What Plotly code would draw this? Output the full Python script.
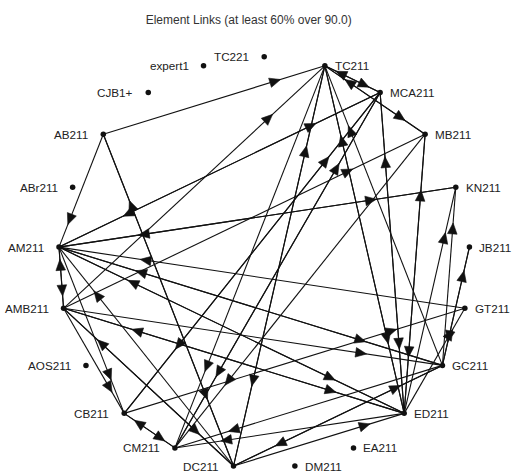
import math
import plotly.graph_objects as go

# Node order around the circle (clockwise from the top)
nodes = ["TC221", "TC211", "MCA211", "MB211", "KN211", "JB211", "GT211", "GC211",
         "ED211", "EA211", "DM211", "DC211", "CM211", "CB211", "AOS211", "AMB211",
         "AM211", "ABr211", "AB211", "CJB1+", "expert1"]

# Directed links (source -> target)
sources = ["AB211", "AMB211", "AM211", "MCA211", "TC211", "MB211", "TC211", "GC211",
           "ED211", "DC211", "CB211", "CM211", "AMB211", "ED211", "AM211", "ED211",
           "ED211", "GC211", "GC211", "AB211", "DC211", "MCA211", "KN211", "GT211",
           "GC211", "ED211", "DC211", "AMB211", "AM211", "MCA211", "TC211", "MCA211",
           "MB211", "TC211", "AB211", "AM211", "AMB211", "ED211", "DC211", "AM211",
           "AMB211", "CM211", "CB211", "AMB211", "GC211", "ED211", "GC211", "DC211",
           "AM211", "AMB211", "CB211", "TC211", "MCA211", "MB211", "DC211", "ED211",
           "JB211"]
targets = ["TC211", "TC211", "MCA211", "TC211", "MCA211", "TC211", "MB211", "TC211",
           "TC211", "TC211", "MCA211", "MCA211", "MB211", "MCA211", "KN211", "MB211",
           "KN211", "KN211", "JB211", "AM211", "AB211", "AM211", "AM211", "AM211",
           "AM211", "AM211", "AM211", "AM211", "AMB211", "CB211", "CM211", "CM211",
           "CM211", "DC211", "DC211", "ED211", "ED211", "AMB211", "AMB211", "CB211",
           "CB211", "CB211", "CM211", "DC211", "CM211", "CM211", "DC211", "ED211",
           "GC211", "GC211", "GT211", "ED211", "ED211", "ED211", "GC211", "GT211",
           "GC211"]

title_text = "Element Links (at least 60% over 90.0)"

# ---- circular layout (unit circle) ----
n = len(nodes)
pos = {}
for i, name in enumerate(nodes):
    ang = math.radians(90 - i * 360.0 / n)
    pos[name] = (math.cos(ang), math.sin(ang))

PX = 205.8  # pixels per data unit
ARROW_AT = 0.8
ALEN = 11.0 / PX
AHW = 4.8 / PX

lx, ly = [], []
ax_, ay_ = [], []
for s, t in zip(sources, targets):
    x0, y0 = pos[s]
    x1, y1 = pos[t]
    lx += [x0, x1, None]
    ly += [y0, y1, None]
    L = math.hypot(x1 - x0, y1 - y0)
    ux, uy = (x1 - x0) / L, (y1 - y0) / L
    tx, ty = x0 + ARROW_AT * L * ux, y0 + ARROW_AT * L * uy
    bx, by = tx - ALEN * ux, ty - ALEN * uy
    px, py = -uy, ux
    ax_ += [tx, bx + AHW * px, bx - AHW * px, tx, None]
    ay_ += [ty, by + AHW * py, by - AHW * py, ty, None]

fig = go.Figure()
fig.add_trace(go.Scatter(x=lx, y=ly, mode="lines",
                         line=dict(color="#111111", width=1.1),
                         hoverinfo="skip", showlegend=False))
fig.add_trace(go.Scatter(x=ax_, y=ay_, mode="lines", fill="toself",
                         fillcolor="#111111", line=dict(color="#111111", width=0.6),
                         hoverinfo="skip", showlegend=False))
fig.add_trace(go.Scatter(x=[pos[k][0] for k in nodes], y=[pos[k][1] for k in nodes],
                         mode="markers", marker=dict(size=5.5, color="#111111"),
                         hoverinfo="skip", showlegend=False))

annotations = []
for name in nodes:
    x, y = pos[name]
    right = x > 0.01
    annotations.append(dict(
        x=x, y=y, xref="x", yref="y", text=name, showarrow=False,
        xanchor="left" if right else "right", yanchor="middle",
        xshift=8 if right else -13, yshift=0,
        font=dict(family="Liberation Sans, Arial, sans-serif", size=11.7, color="#222222")))

W, H = 517, 474
cx_px, cy_px = 264.2, 262.5
fig.update_layout(
    width=W, height=H,
    margin=dict(l=0, r=0, t=0, b=0),
    paper_bgcolor="white", plot_bgcolor="white",
    title=dict(text=title_text, x=248.7 / W, xanchor="center",
               y=1 - 20 / H, yanchor="middle",
               font=dict(family="Liberation Sans, Arial, sans-serif", size=12, color="#333333")),
    xaxis=dict(range=[(0 - cx_px) / PX, (W - cx_px) / PX], visible=False, fixedrange=True),
    yaxis=dict(range=[(cy_px - H) / PX, cy_px / PX], visible=False, fixedrange=True),
    annotations=annotations,
    hovermode=False,
)

# Remove the page's default body margin so the figure fills the window exactly.
fig.write_html("out.html", config={"displayModeBar": False},
               post_script="document.body.style.margin='0';document.body.style.overflow='hidden';")
